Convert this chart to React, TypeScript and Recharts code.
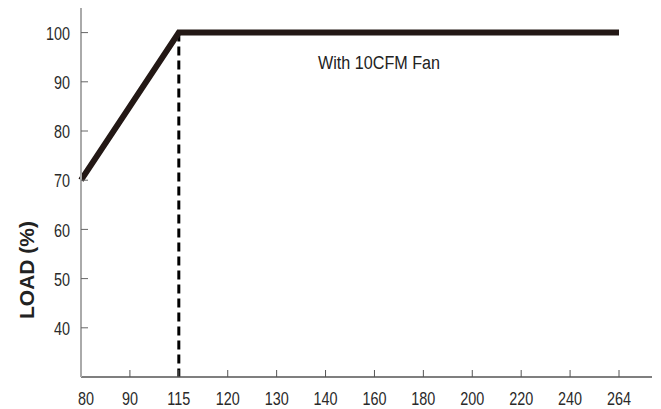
import { LineChart, Line, XAxis, YAxis, ReferenceLine } from "recharts";

// input voltage (VAC) vs. allowed load
const voltages = ["80", "90", "115", "120", "130", "140", "160", "180", "200", "220", "240", "264"];
const loadPct = [70, 85, 100, 100, 100, 100, 100, 100, 100, 100, 100, 100];
const loadTicks = [40, 50, 60, 70, 80, 90, 100];

const rows = voltages.map((v, i) => ({ v, load: loadPct[i] }));

const FONT = "'Liberation Sans', Arial, sans-serif";
// the source uses a condensed face; squeeze the regular one horizontally
const SQUEEZE = 0.8;

function NarrowTick(props: any) {
  const { x, y, payload, textAnchor, vertical, nudge = 0 } = props;
  return (
    <g transform={`translate(${x + nudge},${y}) scale(${SQUEEZE},1)`}>
      <text
        x={0}
        y={0}
        dy={vertical ? "0.4em" : "0.71em"}
        textAnchor={textAnchor}
        fontFamily={FONT}
        fontSize={18}
        fill="#2a2a2a"
      >
        {payload.value}
      </text>
    </g>
  );
}

export default function App() {
  return (
    <div style={{ position: "absolute", left: 0, top: 0, width: 661, height: 409, background: "#fff" }}>
      <LineChart width={661} height={409} data={rows} margin={{ top: 8, right: 9, bottom: 0, left: 0 }}>
        <XAxis
          dataKey="v"
          padding={{ left: 0, right: 33 }}
          height={32}
          interval={0}
          axisLine={{ stroke: "#555", strokeWidth: 1.3 }}
          tickLine={{ stroke: "#555" }}
          tickSize={-7}
          tickMargin={22}
          tick={(p: any) => <NarrowTick {...p} textAnchor="middle" nudge={p.index === 0 ? 5 : 0} />}
        />
        <XAxis xAxisId="top" orientation="top" height={0} tick={false} tickLine={false} axisLine={{ stroke: "#aaa", strokeWidth: 1.5 }} />
        <YAxis
          domain={[30, 105]}
          ticks={loadTicks}
          width={81}
          allowDataOverflow
          axisLine={{ stroke: "#aaa", strokeWidth: 2 }}
          tickLine={{ stroke: "#666" }}
          tickSize={-7}
          tickMargin={18}
          tick={(p: any) => <NarrowTick {...p} textAnchor="end" vertical />}
        />
        <YAxis
          yAxisId="r"
          orientation="right"
          domain={[30, 105]}
          ticks={loadTicks}
          width={0}
          tick={false}
          axisLine={{ stroke: "#aaa", strokeWidth: 1.5 }}
          tickLine={{ stroke: "#666" }}
          tickSize={-7}
        />
        <ReferenceLine
          segment={[{ x: "115", y: 100 }, { x: "115", y: 30 }]}
          stroke="#000"
          strokeWidth={3}
          strokeDasharray="9 5"
        />
        <Line
          dataKey="load"
          stroke="#231815"
          strokeWidth={6}
          dot={false}
          type="linear"
          strokeLinejoin="miter"
          isAnimationActive={false}
        />
        <text
          x={318}
          y={69}
          textLength={122}
          lengthAdjust="spacingAndGlyphs"
          fontFamily={FONT}
          fontSize={18}
          fill="#222"
        >
          With 10CFM Fan
        </text>
        <text
          x={26}
          y={270}
          transform="rotate(-90 26 270)"
          textAnchor="middle"
          dominantBaseline="central"
          fontFamily={FONT}
          fontWeight="bold"
          fontSize={21}
          fill="#222"
        >
          LOAD (%)
        </text>
      </LineChart>
    </div>
  );
}
